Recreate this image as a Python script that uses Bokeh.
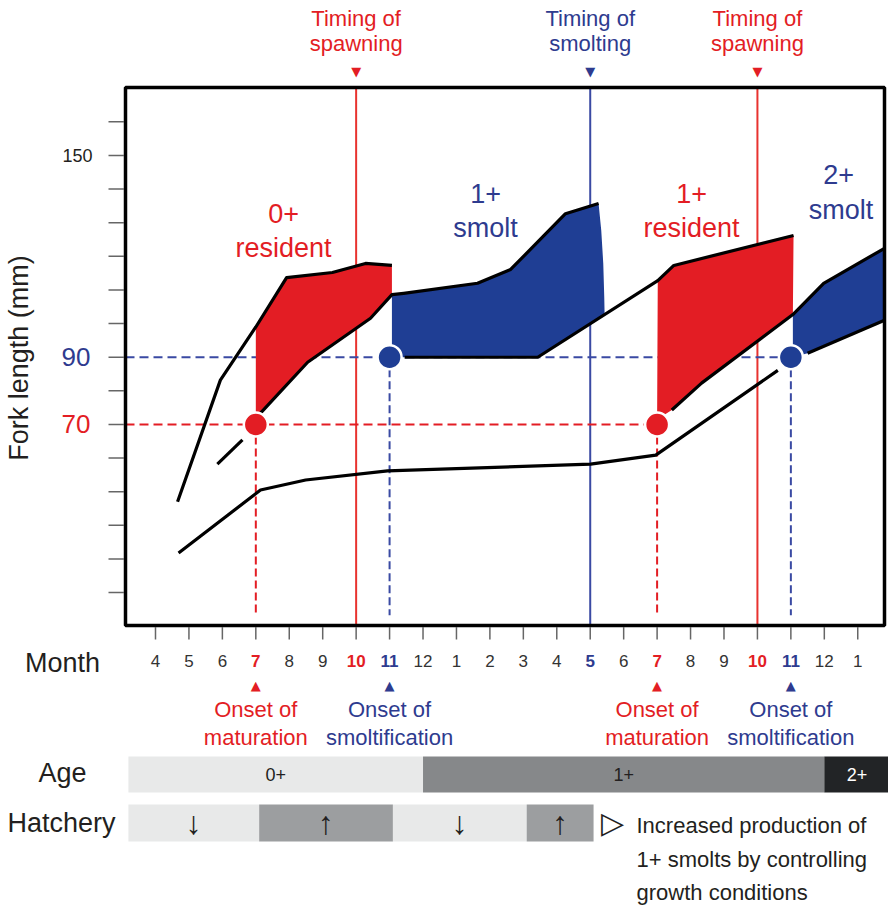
from math import pi
from bokeh.plotting import figure
from bokeh.models import Range1d
from bokeh.embed import file_html
from bokeh.resources import INLINE
from bokeh.core.properties import value

# ---------------- data ----------------
month_labels = ["4", "5", "6", "7", "8", "9", "10", "11", "12", "1", "2",
                "3", "4", "5", "6", "7", "8", "9", "10", "11", "12", "1"]
month_index = list(range(len(month_labels)))
red_months = [3, 6, 15, 18]
blue_months = [7, 13, 19]

y_ticks = list(range(20, 170, 10))
y_tick_labels = {150: "150", 90: "90", 70: "70"}

# growth curves (x = month index from April of year 0, y = fork length mm)
curve_a_x = [0.66, 1.94, 3.0, 3.92, 5.29, 6.28, 7.07]
curve_a_y = [47.0, 83.2, 99.0, 113.7, 115.2, 117.9, 117.3]

curve_b1_pre_x = [1.85, 2.60]
curve_b1_pre_y = [58.2, 65.4]
curve_b1_x = [3.14, 4.55, 6.43, 7.07, 7.42, 9.63, 10.62, 12.26, 13.25]
curve_b1_y = [73.4, 88.5, 101.6, 108.6, 109.0, 112.0, 116.1, 132.7, 135.7]

smolt_edge_x = [13.25, 13.33, 13.39, 13.42, 13.43]
smolt_edge_y = [135.7, 127.7, 117.9, 107.8, 102.7]

curve_c_x = [7.45, 11.43, 15.02, 15.50, 19.08]
curve_c_y = [90.0, 90.0, 112.8, 117.3, 126.2]

curve_b2_x = [15.44, 16.33, 19.06, 19.98, 21.8]
curve_b2_y = [74.3, 82.3, 102.7, 112.0, 122.4]

curve_d_x = [0.69, 3.14, 4.49, 6.94, 13.01, 14.96, 18.61]
curve_d_y = [31.8, 50.5, 53.5, 56.2, 58.2, 60.9, 86.1]

curve_d2_x = [19.50, 21.8]
curve_d2_y = [91.2, 101.0]

spawning_months = [6, 18]
smolting_months = [13]
maturation_onset = [3, 15]
smolt_onset = [7, 19]
maturation_size = 70
smolt_size = 90

region_line1 = ["0+", "1+", "1+", "2+"]
region_line2 = ["resident", "smolt", "resident", "smolt"]

age_labels = ["0+", "1+", "2+"]
age_start = [-0.81, 8.0, 20.0]
age_end = [8.0, 20.0, 21.95]

hatch_start = [-0.81, 3.1, 7.1, 11.1]
hatch_end = [3.1, 7.1, 11.1, 13.1]
hatch_arrows = ["\u2193", "\u2191", "\u2193", "\u2191"]
note_lines = ["Increased production of", "1+ smolts by controlling",
              "growth conditions"]

# ---------------- style / geometry ----------------
RED = "#E31D24"
BLUE = "#1F3E94"
BLUE_TXT = "#2E3B8F"
RED_LINE = "#E8322F"
BLUE_LINE = "#3A4AA3"
INK = "#231F20"
TICK = "#666666"
FONT = "Liberation Sans"
SYM = "DejaVu Sans"

W, H = 888, 907                 # canvas
X0, X1 = -0.897, 21.80          # chart box (month index)
Y0, Y1 = 10.22, 170.22          # chart box (mm)
BOX_L, BOX_T, BOX_W, BOX_H = 125, 87, 759, 538
S = BOX_W / (X1 - X0)
SY = BOX_H / (Y1 - Y0)
XA = X0 - BOX_L / S
XB = XA + W / S
YB = Y1 + BOX_T / SY
YA = YB - H / SY


def px(ref_x):      # canvas pixel -> x data
    return XA + ref_x / S


def py(ref_y):      # canvas pixel -> y data
    return YB - ref_y / SY


p = figure(frame_width=W, frame_height=H, min_border=0,
           x_range=Range1d(XA, XB), y_range=Range1d(YA, YB),
           x_axis_type=None, y_axis_type=None, output_backend="svg",
           toolbar_location=None, outline_line_color=None,
           background_fill_color="white", border_fill_color="white")
p.grid.visible = False


def txt(x, y, t, color=INK, size=22, align="center", font=FONT,
        style="normal", angle=0.0):
    p.text(x=x, y=y, text=t, text_color=color, text_font=value(font),
           text_font_size=f"{size}px", text_align=align,
           text_baseline="middle", text_font_style=style, angle=angle)


def mid(baseline_px, size):     # baseline (px) -> visual middle (data y)
    return py(baseline_px - 0.36 * size)


# event lines
n = len(spawning_months)
p.segment(x0=spawning_months, y0=[Y0] * n, x1=spawning_months, y1=[Y1] * n,
          line_color=RED_LINE, line_width=2)
p.segment(x0=smolting_months, y0=[Y0], x1=smolting_months, y1=[Y1],
          line_color=BLUE_LINE, line_width=2)

# threshold guides
p.segment(x0=[X0], y0=[maturation_size], x1=[max(maturation_onset)],
          y1=[maturation_size], line_color=RED, line_width=2, line_dash="9 5")
p.segment(x0=[X0], y0=[smolt_size], x1=[max(smolt_onset)], y1=[smolt_size],
          line_color=BLUE_LINE, line_width=2, line_dash="9 5")
p.segment(x0=maturation_onset, y0=[maturation_size] * 2, x1=maturation_onset,
          y1=[13.3] * 2, line_color=RED, line_width=2, line_dash="8 4")
p.segment(x0=smolt_onset, y0=[smolt_size] * 2, x1=smolt_onset,
          y1=[13.3] * 2, line_color=BLUE_LINE, line_width=2, line_dash="8 4")

# filled regions built from the curves
red0_x = [maturation_onset[0]] + curve_b1_x[:4] + curve_a_x[2:][::-1]
red0_y = [71.5] + curve_b1_y[:4] + curve_a_y[2:][::-1]
blue1_x = [curve_b1_x[3]] + curve_b1_x[3:] + smolt_edge_x[1:] + [curve_c_x[1]]
blue1_y = [smolt_size] + curve_b1_y[3:] + smolt_edge_y[1:] + [curve_c_y[1]]
red1_x = [maturation_onset[1]] + curve_b2_x[:3] + curve_c_x[2:][::-1]
red1_y = [71.5] + curve_b2_y[:3] + curve_c_y[2:][::-1]
blue2_x = [curve_b2_x[2]] + curve_b2_x[2:] + curve_d2_x[::-1]
blue2_y = [smolt_size] + curve_b2_y[2:] + curve_d2_y[::-1]

p.patches(xs=[red0_x, blue1_x, red1_x, blue2_x],
          ys=[red0_y, blue1_y, red1_y, blue2_y],
          fill_color=[RED, BLUE, RED, BLUE], line_color=None)

p.multi_line(xs=[curve_a_x, curve_b1_pre_x, curve_b1_x, curve_c_x,
                 curve_b2_x, curve_d_x, curve_d2_x],
             ys=[curve_a_y, curve_b1_pre_y, curve_b1_y, curve_c_y,
                 curve_b2_y, curve_d_y, curve_d2_y],
             line_color="black", line_width=3.2, line_join="round")

p.scatter(x=maturation_onset, y=[maturation_size] * 2, size=24,
          fill_color=RED, line_color="white", line_width=2.5)
p.scatter(x=smolt_onset, y=[smolt_size] * 2, size=24,
          fill_color=BLUE, line_color="white", line_width=2.5)

# chart box and ticks
p.quad(left=[X0], right=[X1], bottom=[Y0], top=[Y1], fill_color=None,
       line_color="black", line_width=3.5)
p.segment(x0=month_index, y0=[Y0 - 1.5 / SY] * len(month_index),
          x1=month_index, y1=[Y0 - 14 / SY] * len(month_index),
          line_color=TICK, line_width=1.5)
p.segment(x0=[X0 - 1.5 / S] * len(y_ticks), y0=y_ticks,
          x1=[X0 - 17 / S] * len(y_ticks), y1=y_ticks,
          line_color=TICK, line_width=1.5)

# region labels
reg_x = [3.83, 9.87, 16.03, 20.43]
reg_x2 = [3.83, 9.87, 16.03, 20.5]
reg_c = [RED, BLUE_TXT, RED, BLUE_TXT]
txt(reg_x, [mid(223, 27), mid(203, 27), mid(203, 27), mid(184, 27)],
    region_line1, reg_c, 27)
txt(reg_x2, [mid(257, 27), mid(237, 27), mid(237, 27), mid(219, 27)],
    region_line2, reg_c, 27)

# top timing labels
t_x = spawning_months + smolting_months
t_c = [RED] * len(spawning_months) + [BLUE_TXT] * len(smolting_months)
t_w = ["spawning"] * len(spawning_months) + ["smolting"] * len(smolting_months)
txt(t_x, [mid(26, 22)] * 3, ["Timing of"] * 3, t_c, 22)
txt(t_x, [mid(51, 22)] * 3, t_w, t_c, 22)
txt(t_x, [py(71)] * 3, ["\u25BC"] * 3, t_c, 13, font=SYM)

# month labels
m_color, m_style = [], []
for i in month_index:
    if i in red_months:
        m_color.append(RED); m_style.append("bold")
    elif i in blue_months:
        m_color.append(BLUE_TXT); m_style.append("bold")
    else:
        m_color.append("#333333"); m_style.append("normal")
p.text(x=month_index, y=[mid(667, 17)] * len(month_index), text=month_labels,
       text_color=m_color, text_font_style=m_style, text_font=value(FONT),
       text_font_size="17px", text_align="center", text_baseline="middle")
txt([px(62)], [mid(672, 27)], ["Month"], INK, 27)

# onset labels
o_x = maturation_onset + smolt_onset
o_c = [RED] * 2 + [BLUE_TXT] * 2
o_w = ["maturation"] * 2 + ["smoltification"] * 2
txt(o_x, [py(685)] * 4, ["\u25B2"] * 4, o_c, 13, font=SYM)
txt(o_x, [mid(717, 22)] * 4, ["Onset of"] * 4, o_c, 22)
txt(o_x, [mid(745, 22)] * 4, o_w, o_c, 22)

# y tick labels and axis title
txt([px(92)], [150], [y_tick_labels[150]], INK, 18, align="right")
txt([px(90)], [smolt_size], [y_tick_labels[90]], BLUE_TXT, 26, align="right")
txt([px(90)], [maturation_size], [y_tick_labels[70]], RED, 26, align="right")
txt([px(28.5 - 0.36 * 27)], [py(357.5)], ["Fork length (mm)"], INK, 27,
    angle=pi / 2)

# ---------------- age & hatchery bars ----------------
age_colors = ["#E8E9E9", "#86888A", "#222426"]
age_text_colors = [INK, INK, "white"]
p.quad(left=age_start, right=age_end, bottom=[py(792)] * 3,
       top=[py(756)] * 3, fill_color=age_colors, line_color=None)
txt([(a + b) / 2 for a, b in zip(age_start, age_end)], [mid(780, 18)] * 3,
    age_labels, age_text_colors, 18)

hatch_colors = ["#E8E9E9", "#9C9EA0", "#E8E9E9", "#9C9EA0"]
p.quad(left=hatch_start, right=hatch_end, bottom=[py(841)] * 4,
       top=[py(804)] * 4, fill_color=hatch_colors, line_color=None)
txt([(a + b) / 2 for a, b in zip(hatch_start, hatch_end)], [py(822)] * 4,
    hatch_arrows, INK, 32)

txt([px(62), px(61)], [mid(782, 27), mid(832, 27)], ["Age", "Hatchery"],
    INK, 27)
txt([px(612)], [py(822)], ["\u25B7"], INK, 30, font=SYM)
txt([px(636)] * 3, [mid(833, 22), mid(867, 22), mid(900, 22)], note_lines,
    INK, 22, align="left")

open("out.html", "w").write(file_html(p, INLINE, "chart"))
